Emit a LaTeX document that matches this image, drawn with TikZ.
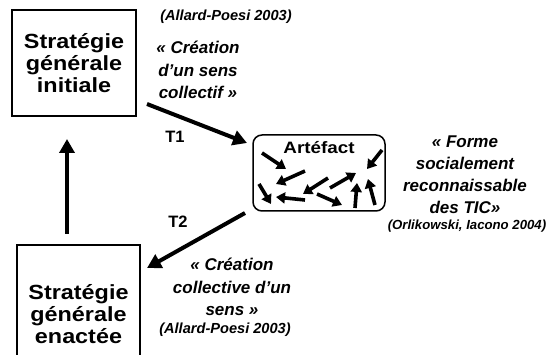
\documentclass[tikz,border=0pt]{standalone}
\usepackage{fontspec}
\setmainfont{Liberation Sans}
\newfontfamily\boxfont[FakeStretch=1.14]{Liberation Sans}
\usetikzlibrary{arrows.meta}
\tikzset{
  stratbox/.style={draw, line width=1.3pt, minimum width=124pt, align=center, inner sep=0pt,
    font=\boxfont\fontsize{20.5}{22}\selectfont\bfseries},
  artbox/.style={draw, line width=1.5pt, rounded corners=9pt, minimum width=132pt, minimum height=76pt, inner sep=0pt},
  qt/.style={align=center, inner sep=0pt, font=\fontsize{17}{22.5}\selectfont\bfseries\itshape},
  cite/.style={align=center, inner sep=0pt, font=\fontsize{14.6}{16}\selectfont\bfseries\itshape},
  tlab/.style={inner sep=0pt, font=\fontsize{16.5}{18}\selectfont\bfseries},
  bigarrow/.style={line width=4pt, -{Triangle[length=14pt,width=15pt]}},
  smallarrow/.style={line width=3.6pt, -{Triangle[length=9pt,width=11pt]}}
}
\begin{document}
\begin{tikzpicture}[x=1pt,y=-1pt]
\useasboundingbox (0,0) rectangle (550,355);
\clip (0,0) rectangle (550,355);
% boxes
\node[stratbox, minimum height=106pt] (top) at (74,63) {Stratégie\\générale\\initiale};
\node[stratbox, minimum width=123pt, minimum height=117pt, text depth=0pt] (bot) at (78.5,303.5) {\raisebox{3pt}{\parbox{116pt}{\centering Stratégie\\générale\\enactée}}};
\node[artbox] (art) at (319,173) {};
\node[inner sep=0pt, font=\boxfont\fontsize{16.5}{17}\selectfont\bfseries] (arttitle) at (319,148) {Artéfact};
% texts
\node[cite] (c1) at (226,17) {(Allard-Poesi 2003)};
\node[qt] (q1) at (198,70) {« Création\\d'un sens\\collectif »};
\node[qt, font=\fontsize{17}{22}\selectfont\bfseries\itshape] (q2) at (465,175) {« Forme\\socialement\\reconnaissable\\des TIC»};
\node[cite, font=\fontsize{13.2}{15}\selectfont\bfseries\itshape] (c2) at (467,226) {(Orlikowski, Iacono 2004)};
\node[qt] (q3) at (232,287) {« Création\\collective d'un\\sens »};
\node[cite] (c3) at (225,330) {(Allard-Poesi 2003)};
\node[tlab] (t1) at (175,137) {T1};
\node[tlab] (t2) at (178,222) {T2};
% connector ends
\coordinate (a1s) at (147,104);
\coordinate (a1e) at (247,143);
\coordinate (a2s) at (245,213);
\coordinate (a2e) at (147,268);
\coordinate (a3s) at (67,234);
\coordinate (a3e) at (67,139);
\draw[bigarrow] (a1s) -- (a1e);
\draw[bigarrow] (a2s) -- (a2e);
\draw[bigarrow] (a3s) -- (a3e);
% inner arrows of artefact
\draw[smallarrow] (262,153) -- (286,169);
\draw[smallarrow] (305,171) -- (276,184);
\draw[smallarrow] (259,184) -- (271,204);
\draw[smallarrow] (305,200) -- (276,197);
\draw[smallarrow] (328,178) -- (303,194);
\draw[smallarrow] (317,194) -- (342,205);
\draw[smallarrow] (330,188) -- (356,173);
\draw[smallarrow] (355,208) -- (357,183);
\draw[smallarrow] (382,150) -- (367,169);
\draw[smallarrow] (375,205) -- (368,179);
\end{tikzpicture}
\end{document}
